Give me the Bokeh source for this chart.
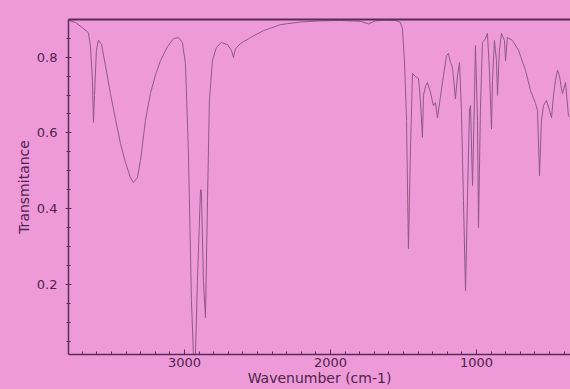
from bokeh.plotting import figure
from bokeh.models import Range1d, FixedTicker, LinearAxis
from bokeh.embed import file_html
from bokeh.resources import INLINE
import numpy as np

# IR spectrum (wavenumber cm-1, transmittance)
wavenumber = [3794, 3747, 3699, 3658, 3644, 3630, 3623, 3616, 3603, 3589,
              3568, 3541, 3507, 3473, 3438, 3404, 3370, 3349, 3322, 3301,
              3267, 3233, 3199, 3164, 3116, 3075, 3041, 3014, 2993, 2973,
              2952, 2938, 2925, 2911, 2890, 2884, 2870, 2856, 2842, 2829,
              2808, 2781, 2747, 2705, 2678, 2664, 2651, 2616, 2548, 2459,
              2342, 2205, 2068, 1932, 1795, 1740, 1692, 1623, 1555, 1521,
              1507, 1493, 1479, 1466, 1452, 1438, 1418, 1397, 1384, 1370,
              1363, 1349, 1336, 1315, 1295, 1281, 1267, 1247, 1226, 1205,
              1192, 1178, 1164, 1144, 1130, 1116, 1103, 1089, 1075, 1062,
              1048, 1041, 1027, 1014, 1007, 993, 986, 973, 959, 938,
              925, 911, 897, 890, 877, 863, 856, 843, 829, 808,
              801, 788, 753, 712, 664, 630, 596, 582, 568, 555,
              541, 521, 500, 486, 473, 459, 445, 432, 418, 411,
              390, 370, 356]
transmittance = [0.897, 0.892, 0.878, 0.865, 0.831, 0.738, 0.628, 0.699, 0.818, 0.845,
                 0.834, 0.778, 0.704, 0.638, 0.572, 0.522, 0.482, 0.469, 0.482, 0.527,
                 0.633, 0.704, 0.752, 0.791, 0.828, 0.849, 0.852, 0.839, 0.783, 0.553,
                 0.157, 0.010, 0.010, 0.210, 0.450, 0.448, 0.210, 0.112, 0.421, 0.686,
                 0.791, 0.826, 0.839, 0.833, 0.818, 0.799, 0.822, 0.836, 0.852, 0.870,
                 0.886, 0.893, 0.896, 0.897, 0.895, 0.888, 0.896, 0.898, 0.897, 0.892,
                 0.876, 0.791, 0.633, 0.294, 0.553, 0.757, 0.749, 0.744, 0.686, 0.588,
                 0.699, 0.723, 0.733, 0.707, 0.672, 0.680, 0.640, 0.694, 0.751, 0.804,
                 0.810, 0.786, 0.773, 0.690, 0.751, 0.786, 0.659, 0.421, 0.183, 0.421,
                 0.660, 0.672, 0.461, 0.686, 0.831, 0.633, 0.350, 0.660, 0.839, 0.849,
                 0.863, 0.765, 0.611, 0.738, 0.844, 0.791, 0.699, 0.818, 0.863, 0.844,
                 0.791, 0.852, 0.844, 0.818, 0.765, 0.712, 0.678, 0.659, 0.487, 0.633,
                 0.672, 0.686, 0.660, 0.640, 0.697, 0.738, 0.766, 0.752, 0.717, 0.704,
                 0.733, 0.645, 0.640]

x_major = [3000, 2000, 1000]
y_major = [0.2, 0.4, 0.6, 0.8]
x_title = "Wavenumber (cm-1)"
y_title = "Transmitance"

BG = "#EE9AD9"
INK = "#4f2449"
AXIS = "#5a2c55"
LINE = "#8c5a86"
FONT = "DejaVu Sans"

p = figure(width=570, height=389, output_backend="svg", toolbar_location=None,
           x_range=Range1d(3794, 356), y_range=Range1d(0.0145, 0.8996),
           min_border_left=68, min_border_right=0, min_border_top=19,
           min_border_bottom=35)
p.background_fill_color = BG
p.border_fill_color = BG
p.outline_line_color = None
p.grid.visible = False

p.line(wavenumber, transmittance, line_color=LINE, line_width=1)

xa = p.xaxis[0]
xa.ticker = FixedTicker(ticks=x_major, minor_ticks=list(np.arange(400, 3801, 100)))
xa.axis_line_color = AXIS
xa.axis_line_width = 1.5
xa.major_tick_line_color = AXIS
xa.major_tick_in = 5
xa.major_tick_out = 0
xa.minor_tick_line_color = AXIS
xa.minor_tick_in = 3
xa.minor_tick_out = 0
xa.major_label_standoff = 3
xa.major_label_text_font = FONT
xa.major_label_text_font_size = "13px"
xa.major_label_text_color = INK
xa.axis_label = x_title
xa.axis_label_standoff = 0
xa.axis_label_text_font = FONT
xa.axis_label_text_font_size = "14px"
xa.axis_label_text_font_style = "normal"
xa.axis_label_text_color = INK

ya = p.yaxis[0]
ya.ticker = FixedTicker(ticks=y_major, minor_ticks=list(np.round(np.arange(0.05, 0.9, 0.05), 2)))
ya.axis_line_color = AXIS
ya.axis_line_width = 1.5
ya.major_tick_line_color = AXIS
ya.major_tick_in = 3
ya.major_tick_out = 3
ya.minor_tick_line_color = AXIS
ya.minor_tick_in = 2
ya.minor_tick_out = 2
ya.major_label_standoff = 8
ya.major_label_text_font = FONT
ya.major_label_text_font_size = "13px"
ya.major_label_text_color = INK
ya.axis_label = y_title
ya.axis_label_standoff = 2
ya.axis_label_text_font = FONT
ya.axis_label_text_font_size = "14px"
ya.axis_label_text_font_style = "normal"
ya.axis_label_text_color = INK

top = LinearAxis(ticker=FixedTicker(ticks=[]), axis_line_color=AXIS, axis_line_width=2.2,
                 major_tick_line_color=None, minor_tick_line_color=None,
                 major_label_text_font_size="0px")
p.add_layout(top, "above")

html = file_html(p, INLINE)
html = html.replace("<head>", "<head><style>html,body{background:%s;}</style>" % BG, 1)
open("out.html", "w").write(html)
